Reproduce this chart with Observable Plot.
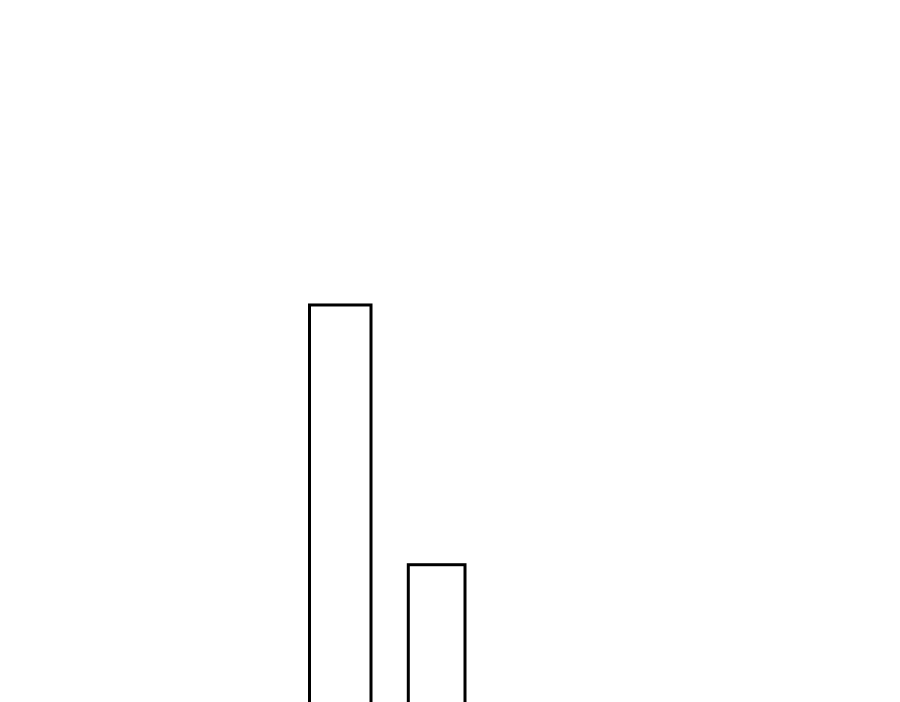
<!DOCTYPE html>
<html>
<head>
<meta charset="utf-8">
<script src="https://cdn.jsdelivr.net/npm/d3@7"></script>
<script src="https://cdn.jsdelivr.net/npm/@observablehq/plot@0.6"></script>
<style>
  html, body { margin: 0; padding: 0; background: #fff; }
  #chart svg { display: block; }
</style>
</head>
<body>
<div id="chart"></div>
<script>
// Bar categories and their extents (x in data units) and heights
const categories = ["A", "B"];
const binStart = [30.95, 40.83];
const binEnd = [37.1, 46.5];
const values = [60.9, 27.6];

const data = categories.map((c, i) => ({
  category: c,
  x1: binStart[i],
  x2: binEnd[i],
  value: values[i]
}));

const chart = Plot.plot({
  width: 900,
  height: 702,
  margin: 0,
  x: { domain: [0, 90], axis: null },
  y: { domain: [10, 100], axis: null },
  marks: [
    Plot.rectY(data, {
      x1: "x1",
      x2: "x2",
      y1: 0,
      y2: "value",
      fill: "none",
      stroke: "black",
      strokeWidth: 3,
      clip: true
    })
  ]
});
document.getElementById("chart").appendChild(chart);
</script>
</body>
</html>
